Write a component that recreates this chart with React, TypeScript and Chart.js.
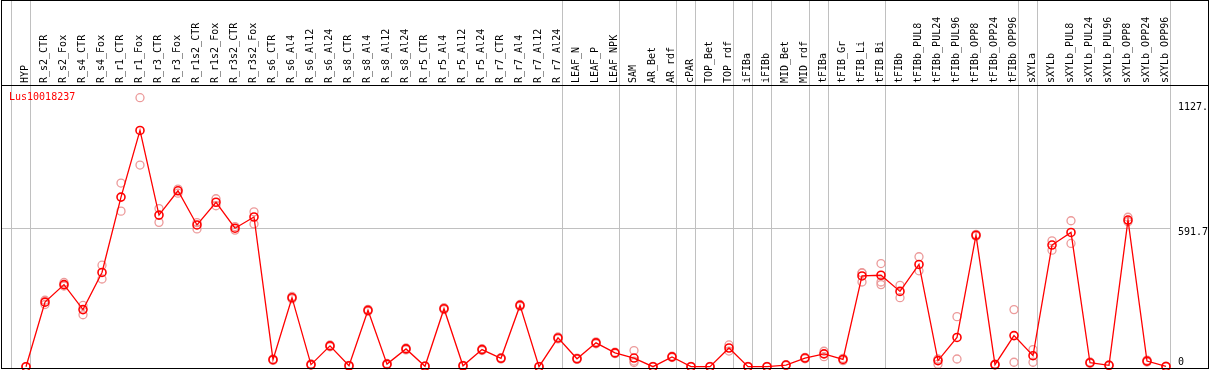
import React, { useEffect, useRef } from "react";
import { Chart, registerables } from "chart.js";

Chart.register(...registerables);

const geneName = "Lus10018237";

const categories = [
  "HYP", "R_s2_CTR", "R_s2_Fox", "R_s4_CTR", "R_s4_Fox", "R_r1_CTR", "R_r1_Fox", "R_r3_CTR", "R_r3_Fox",
  "R_r1s2_CTR", "R_r1s2_Fox", "R_r3s2_CTR", "R_r3s2_Fox", "R_s6_CTR", "R_s6_Al4", "R_s6_Al12", "R_s6_Al24",
  "R_s8_CTR", "R_s8_Al4", "R_s8_Al12", "R_s8_Al24", "R_r5_CTR", "R_r5_Al4", "R_r5_Al12", "R_r5_Al24",
  "R_r7_CTR", "R_r7_Al4", "R_r7_Al12", "R_r7_Al24", "LEAF_N", "LEAF_P", "LEAF_NPK", "SAM", "AR_Bet", "AR_rdf",
  "cPAR", "TOP_Bet", "TOP_rdf", "iFIBa", "iFIBb", "MID_Bet", "MID_rdf", "tFIBa", "tFIB_Gr", "tFIB_Li", "tFIB_Bi",
  "tFIBb", "tFIBb_PUL8", "tFIBb_PUL24", "tFIBb_PUL96", "tFIBb_OPP8", "tFIBb_OPP24", "tFIBb_OPP96",
  "sXYLa", "sXYLb", "sXYLb_PUL8", "sXYLb_PUL24", "sXYLb_PUL96", "sXYLb_OPP8", "sXYLb_OPP24", "sXYLb_OPP96",
];

const meanValues = [
  0, 276, 351, 244, 403, 725, 1010, 648, 752, 606, 703, 592, 640,
  30, 295, 9, 89, 4, 241, 11, 76, 2, 248, 4, 73, 36, 262, 0, 123,
  34, 102, 59, 37, 0, 42, 0, 0, 80, 0, 0, 7, 37, 55, 31, 388, 391,
  322, 437, 26, 125, 562, 9, 133, 47, 520, 574, 17, 6, 627, 24, 1,
];

const replicate1 = [
  0, 284, 360, 262, 434, 785, 1150, 676, 759, 616, 718, 599, 662,
  33, 300, 12, 93, 6, 245, 14, 80, 3, 252, 6, 77, 39, 266, 1, 127,
  37, 106, 62, 69, 1, 45, 1, 1, 93, 1, 1, 9, 40, 66, 36, 402, 441,
  348, 470, 33, 214, 566, 11, 244, 73, 538, 624, 20, 8, 639, 28, 2,
];

const replicate2 = [
  0, 266, 345, 222, 375, 665, 862, 617, 742, 589, 688, 584, 610,
  27, 290, 6, 85, 2, 237, 8, 72, 1, 244, 2, 69, 33, 258, 0, 119,
  31, 98, 56, 24, 0, 39, 0, 0, 67, 0, 0, 5, 34, 43, 26, 362, 362,
  295, 410, 11, 33, 558, 7, 19, 19, 498, 527, 14, 4, 620, 20, 0,
];

const replicate3: (number | null)[] = categories.map(() => null);
replicate3[32] = 18;
replicate3[44] = 400;
replicate3[45] = 351;

const groupEnds = [-1, 0, 28, 31, 34, 35, 37, 38, 39, 41, 42, 45, 52, 53, 60];

const yTicks = [0, 591.7, 1127];
const yTickLabels = ["0", "591.7", "1127."];

const MONO = "'DejaVu Sans Mono', monospace";

const zeroPadding = (s: any) => {
  s.paddingLeft = 0;
  s.paddingRight = 0;
  s.paddingTop = 0;
  s.paddingBottom = 0;
};

export default function App() {
  const canvasRef = useRef<HTMLCanvasElement | null>(null);

  useEffect(() => {
    document.body.style.margin = "0";
    const canvas = canvasRef.current;
    if (!canvas) return;

    const toPts = (arr: (number | null)[]) =>
      arr.map((v, i) => ({ x: i, y: v })).filter((p) => p.y !== null) as { x: number; y: number }[];

    const overlay = {
      id: "overlay",
      beforeDatasetsDraw(chart: any) {
        const ctx = chart.ctx;
        const xs = chart.scales.x;
        ctx.save();
        ctx.strokeStyle = "#c0c0c0";
        ctx.lineWidth = 1;
        for (const g of groupEnds) {
          const px = Math.round(xs.getPixelForValue(g + 4 / 19)) + 0.5;
          ctx.beginPath();
          ctx.moveTo(px, 0);
          ctx.lineTo(px, 368);
          ctx.stroke();
        }
        ctx.restore();
      },
      afterDraw(chart: any) {
        const ctx = chart.ctx;
        ctx.save();
        ctx.strokeStyle = "#000";
        ctx.lineWidth = 1;
        ctx.strokeRect(1.5, 0.5, 1207, 368);
        ctx.beginPath();
        ctx.moveTo(1, 85.5);
        ctx.lineTo(1209, 85.5);
        ctx.stroke();
        ctx.fillStyle = "#ff0000";
        ctx.font = "10px " + MONO;
        ctx.textBaseline = "middle";
        ctx.textAlign = "left";
        ctx.fillText(geneName, 9, 97.5);
        ctx.restore();
      },
    };

    const repStyle = {
      type: "scatter",
      pointRadius: 4,
      borderWidth: 1.3,
      borderColor: "#ec9a9a",
      backgroundColor: "rgba(0,0,0,0)",
      showLine: false,
      clip: false,
    };

    const chart = new Chart(canvas, {
      type: "line",
      data: {
        datasets: [
          {
            type: "line",
            data: toPts(meanValues),
            borderColor: "#ff0000",
            borderWidth: 1.3,
            pointRadius: 4,
            pointBorderWidth: 1.6,
            pointBorderColor: "#ff0000",
            pointBackgroundColor: "rgba(0,0,0,0)",
            tension: 0,
            clip: false,
          } as any,
          { ...repStyle, data: toPts(replicate1) } as any,
          { ...repStyle, data: toPts(replicate2) } as any,
          { ...repStyle, data: toPts(replicate3) } as any,
        ],
      },
      options: {
        responsive: false,
        animation: false,
        devicePixelRatio: 1,
        layout: { autoPadding: false, padding: { left: 2, right: 0, top: 0, bottom: 2 } },
        plugins: { legend: { display: false }, tooltip: { enabled: false }, title: { display: false } },
        scales: {
          x: {
            type: "linear",
            position: "top",
            bounds: "data",
            min: -24 / 19,
            max: -24 / 19 + 1168 / 19,
            afterBuildTicks: (s: any) => {
              s.ticks = categories.map((_, i) => ({ value: i }));
            },
            afterFit: (s: any) => {
              s.height = 86;
              zeroPadding(s);
            },
            grid: { display: false, drawTicks: false },
            border: { display: false },
            ticks: {
              autoSkip: false,
              minRotation: 90,
              maxRotation: 90,
              padding: 3,
              labelOffset: 11,
              color: "#000",
              font: { family: MONO, size: 10, lineHeight: 1.2 },
              callback: (_v: any, i: number) => categories[i],
            },
          } as any,
          y: {
            type: "linear",
            position: "right",
            bounds: "data",
            min: -5.56,
            max: 1200,
            afterBuildTicks: (s: any) => {
              s.ticks = yTicks.map((v) => ({ value: v }));
            },
            afterFit: (s: any) => {
              s.width = 39;
              zeroPadding(s);
            },
            grid: {
              drawTicks: false,
              lineWidth: 1,
              color: (c: any) => (c.tick && c.tick.value === 591.7 ? "#c0c0c0" : "rgba(0,0,0,0)"),
            },
            border: { display: false },
            ticks: {
              autoSkip: false,
              padding: 8,
              color: "#000",
              font: { family: MONO, size: 10, lineHeight: 0.9 },
              callback: (_v: any, i: number) => (i === 0 ? [yTickLabels[i], ""] : ["", yTickLabels[i]]),
            },
          } as any,
        },
      },
      plugins: [overlay],
    });

    return () => chart.destroy();
  }, []);

  return (
    <div style={{ width: 1209, height: 370 }}>
      <canvas ref={canvasRef} width={1209} height={370} style={{ display: "block" }} />
    </div>
  );
}
